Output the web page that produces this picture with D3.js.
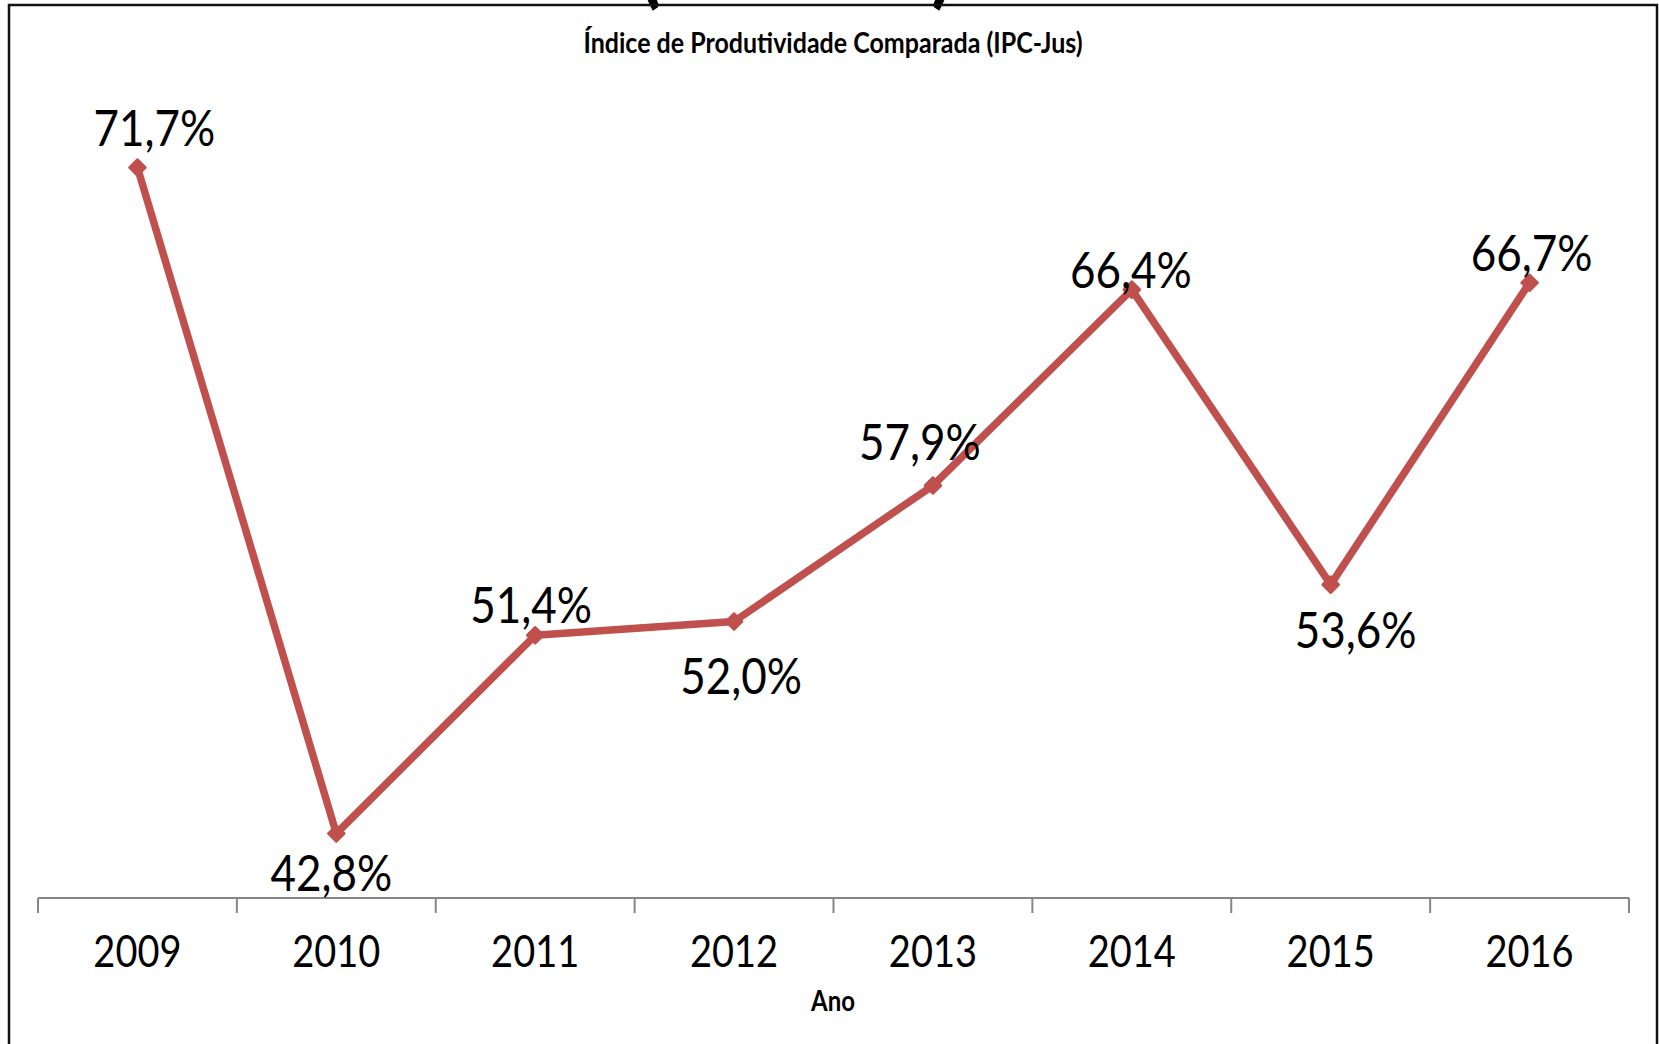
<!DOCTYPE html>
<html>
<head>
<meta charset="utf-8">
<script src="https://cdn.jsdelivr.net/npm/d3@7"></script>
<style>
  html, body { margin: 0; padding: 0; background: #fff; }
  svg { display: block; }
</style>
</head>
<body>
<div id="chart"></div>
<script>
// Chart data
const years = ['2009', '2010', '2011', '2012', '2013', '2014', '2015', '2016'];
const ipcJus = [71.7, 42.8, 51.4, 52.0, 57.9, 66.4, 53.6, 66.7];
const valueLabels = ['71,7%', '42,8%', '51,4%', '52,0%', '57,9%', '66,4%', '53,6%', '66,7%'];

// Label placement tweaks (layout only, in px relative to the point)
const labelDx = [17, -5, -4, 7, -13, -1, 25, 2];
const labelDy = [-41, 38, -32, 53, -45, -21, 44, -31];

const width = 1659;
const height = 1044;
const lineColor = '#c0504d';
const fontFamily = 'Lato, "Open Sans", sans-serif';
const stretch = 1.15; // text in the reference is drawn taller than wide

const svg = d3.select('#chart')
    .append('svg')
    .attr('width', width)
    .attr('height', height)
    .attr('viewBox', `0 0 ${width} ${height}`);

svg.append('rect')
    .attr('width', width)
    .attr('height', height)
    .attr('fill', '#fff');

// Scales
const x = d3.scaleBand()
    .domain(years)
    .range([38, 1629]);

const y = d3.scaleLinear()
    .domain([40, 75])
    .range([898, 91.5]);

// Helper: text stretched vertically around its own anchor point
function addText(g, tx, ty, str, size, weight) {
    return g.append('text')
        .attr('transform', `translate(${tx},${ty}) scale(1,${stretch})`)
        .attr('text-anchor', 'middle')
        .attr('dominant-baseline', 'central')
        .attr('font-family', fontFamily)
        .attr('font-size', size)
        .attr('font-weight', weight || 'normal')
        .attr('fill', '#000')
        .text(str);
}

// Big chart title, cut off by the top of the picture
svg.append('text')
    .attr('transform', `translate(796,-4) scale(1,${stretch})`)
    .attr('text-anchor', 'middle')
    .attr('font-family', fontFamily)
    .attr('font-size', 82)
    .attr('font-weight', 'bold')
    .attr('fill', '#000')
    .text('(IPC-Jus)');

// Frame
svg.append('rect')
    .attr('x', 9)
    .attr('y', 5)
    .attr('width', 1648)
    .attr('height', 1100)
    .attr('fill', 'none')
    .attr('stroke', '#111')
    .attr('stroke-width', 2.5);

// Subtitle
addText(svg, 833, 42, 'Índice de Produtividade Comparada (IPC-Jus)', 25, 'bold');

// X axis
const axisY = y(40);
const axisG = svg.append('g')
    .attr('transform', `translate(0,${axisY})`);

axisG.call(d3.axisBottom(x).tickSize(0).tickPadding(0))
    .call(g => g.select('.domain').remove())
    .call(g => g.selectAll('.tick text').remove());

axisG.append('line')
    .attr('x1', x.range()[0])
    .attr('x2', x.range()[1])
    .attr('stroke', '#868686')
    .attr('stroke-width', 2);

const boundaries = years.map(d => x(d)).concat([x.range()[1]]);
axisG.selectAll('.bound')
    .data(boundaries)
    .join('line')
    .attr('class', 'bound')
    .attr('x1', d => d)
    .attr('x2', d => d)
    .attr('y1', 0)
    .attr('y2', 15)
    .attr('stroke', '#868686')
    .attr('stroke-width', 2);

years.forEach(yr => {
    addText(svg, x(yr) + x.bandwidth() / 2, 950, yr, 38);
});

// Axis title
addText(svg, 833, 1000, 'Ano', 24, 'bold');

// Line
const cx = (d, i) => x(years[i]) + x.bandwidth() / 2;

const line = d3.line()
    .x(cx)
    .y(d => y(d));

svg.append('path')
    .datum(ipcJus)
    .attr('d', line)
    .attr('fill', 'none')
    .attr('stroke', lineColor)
    .attr('stroke-width', 7.5)
    .attr('stroke-linejoin', 'round');

// Diamond markers
const diamond = d3.symbol().type(d3.symbolSquare).size(120);
svg.selectAll('.marker')
    .data(ipcJus)
    .join('path')
    .attr('class', 'marker')
    .attr('d', diamond)
    .attr('transform', (d, i) => `translate(${cx(d, i)},${y(d)}) rotate(45)`)
    .attr('fill', lineColor)
    .attr('stroke', lineColor)
    .attr('stroke-width', 3)
    .attr('stroke-linejoin', 'round');

// Value labels
ipcJus.forEach((d, i) => {
    addText(svg, cx(d, i) + labelDx[i], y(d) + labelDy[i], valueLabels[i], 44);
});
</script>
</body>
</html>
